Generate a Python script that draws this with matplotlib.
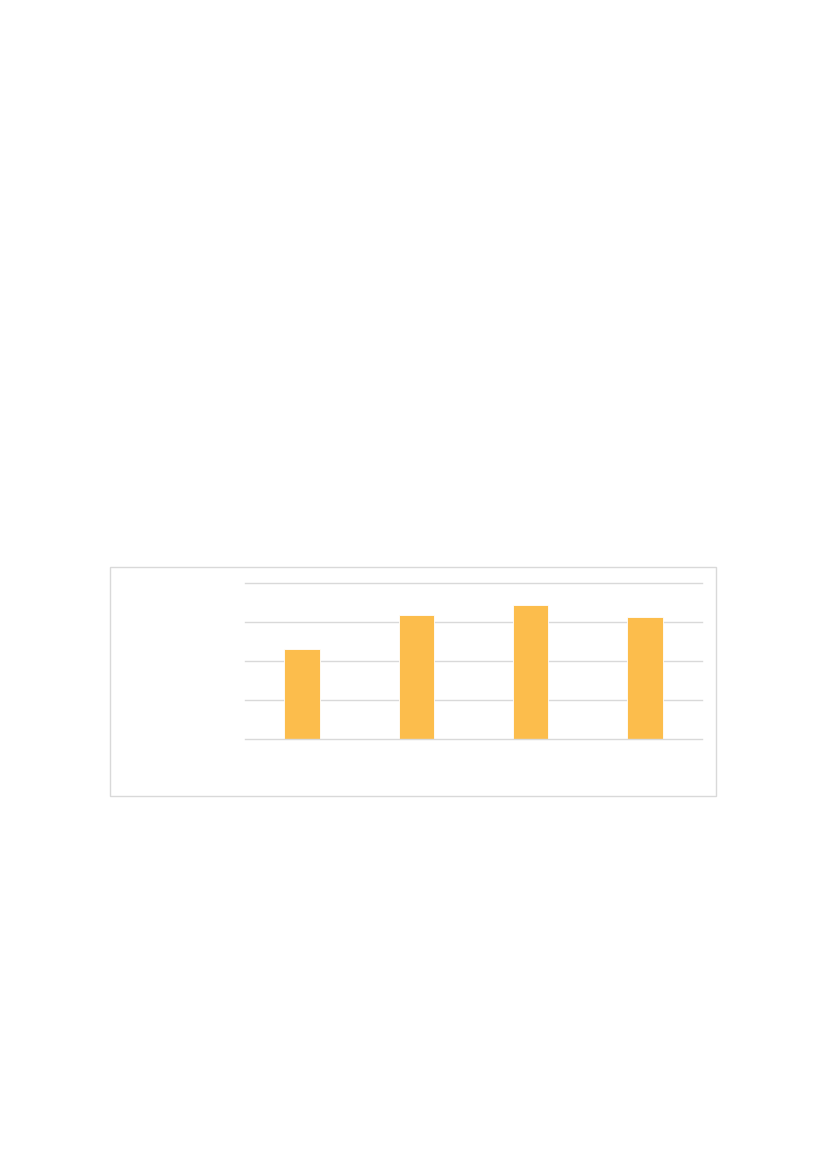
import matplotlib
matplotlib.use("Agg")
import matplotlib.pyplot as plt
from matplotlib.patches import Rectangle

# valores (sem rotulos visiveis)
categorias = ["A", "B", "C", "D"]
valores = [2.32, 3.18, 3.43, 3.13]
grade = [0, 1, 2, 3, 4]

fig = plt.figure(figsize=(8.27, 11.69), dpi=100)
fig.patch.set_facecolor("white")

# moldura do grafico
fig.patches.append(Rectangle((110/827, 1-796/1169), 606/827, 229/1169,
                             transform=fig.transFigure, fill=False,
                             edgecolor="#D9D9D9", linewidth=1.0))

ax = fig.add_axes([245/827, 1-739/1169, 457/827, 156/1169])
x = range(len(categorias))
ax.bar(x, valores, width=0.31, color="#FCBD4C", edgecolor="white",
       linewidth=0.6, zorder=3)
ax.set_xlim(-0.5, len(categorias)-0.5)
ax.set_ylim(0, 4)
for g in grade:
    # linha base por cima das barras
    ax.axhline(g, color="#D9D9D9", linewidth=1.0,
               zorder=4 if g == 0 else 1, clip_on=False)
ax.set_xticks([])
ax.set_yticks([])
for s in ax.spines.values():
    s.set_visible(False)
ax.patch.set_alpha(0)

fig.savefig("out.png", dpi=100)
